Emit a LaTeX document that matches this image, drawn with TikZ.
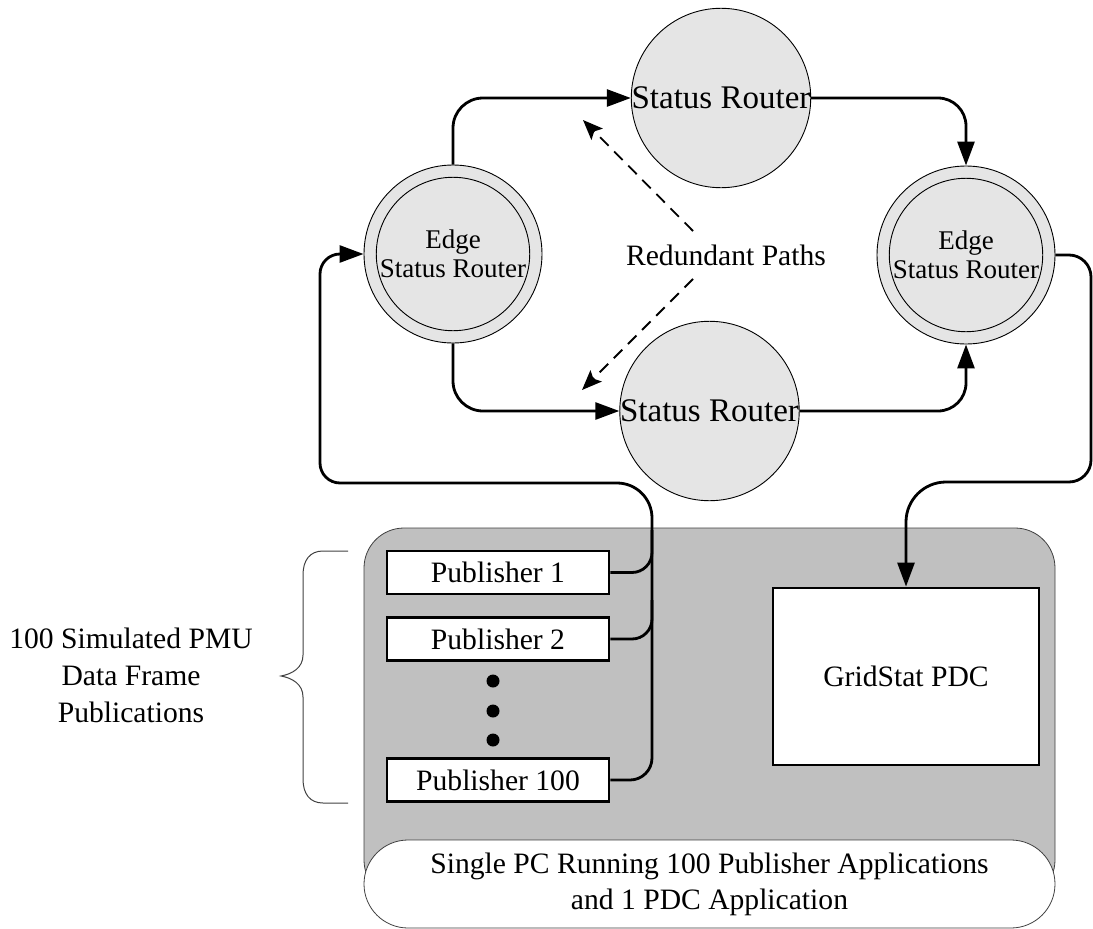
\documentclass[tikz,border=0pt]{standalone}
\usepackage{fontspec}
\setmainfont{Liberation Serif}
\usetikzlibrary{arrows.meta}
\definecolor{routerfill}{RGB}{229,229,229}
\definecolor{boxgray}{RGB}{192,192,192}
\definecolor{boxedge}{RGB}{64,64,64}
\begin{document}
\begin{tikzpicture}[x=1pt,y=-1pt,
  txt/.style={font=\fontsize{29.6}{36}\selectfont, align=center},
  router/.style={circle, draw=black, line width=0.9pt, fill=routerfill,
    minimum size=178pt, inner sep=0pt, font=\fontsize{33}{38}\selectfont},
  edgeouter/.style={circle, draw=black, line width=0.9pt, fill=routerfill,
    minimum size=178pt, inner sep=0pt},
  edgeinner/.style={circle, draw=black, line width=0.9pt, fill=routerfill,
    minimum size=147pt, inner sep=0pt, align=center,
    font=\fontsize{27}{29}\selectfont},
  pub/.style={draw=black, line width=2.6pt, fill=white, minimum width=222pt,
    minimum height=43pt, inner sep=0pt, txt},
  conn/.style={line width=2.8pt},
  flow/.style={conn, -{Triangle[length=24pt,width=17pt]}},
  dashflow/.style={line width=1.8pt, dash pattern=on 12pt off 8pt,
    -{Stealth[length=20pt,width=16pt,inset=4pt]}},
  bracestyle/.style={draw=boxedge, line width=1pt}
]
\useasboundingbox (0,0) rectangle (1093,929);

% PC enclosure and its caption
\node[draw=boxedge, fill=boxgray, line width=0.8pt, rounded corners=40pt,
  minimum width=691pt, minimum height=372pt, inner sep=0pt] (pc) at (709.5,714) {};
\node[draw=boxedge, fill=white, line width=0.8pt, rounded corners=44pt,
  minimum width=691pt, minimum height=88pt, inner sep=0pt, txt] (pclabel) at (709.5,884)
  {Single PC Running 100 Publisher Applications\\and 1 PDC Application};

% routers
\node[router] (top) at (721,98) {Status Router};
\node[router] (bot) at (709.5,411) {Status Router};
\node[edgeouter] (eL) at (453,254) {};
\node[edgeinner] (eLi) at (453,254) {Edge\\Status Router};
\node[edgeouter] (eR) at (966,255) {};
\node[edgeinner] (eRi) at (966,255) {Edge\\Status Router};

\node[txt] (rp) at (726,255) {Redundant Paths};

% publishers and PDC
\node[pub] (p1) at (498,572.5) {Publisher 1};
\node[pub] (p2) at (498,639) {Publisher 2};
\node[pub] (p100) at (498,780) {Publisher 100};
\foreach \yy in {681,711,740} \fill (493,\yy) circle (6.5pt);
\node[draw=black, line width=2.8pt, fill=white, minimum width=266pt,
  minimum height=177pt, inner sep=0pt, txt] (pdc) at (906,676.5) {GridStat PDC};

% left annotation with brace
\node[txt, font=\fontsize{29.6}{37}\selectfont] (sim) at (131,675)
  {100 Simulated PMU\\Data Frame\\Publications};
\draw[bracestyle] (348,551) -- (323,551) .. controls (310,551) and (303,560) .. (303,575)
  -- (303,655) .. controls (303,668) and (292,674) .. (281,676)
  .. controls (292,678) and (303,684) .. (303,697)
  -- (303,779) .. controls (303,794) and (310,803) .. (323,803) -- (348,803);

% router mesh
\draw[flow, rounded corners=30pt] (eL.north) |- (top.west);
\draw[flow, rounded corners=28pt] (top.east) -| (eR.north);
\draw[flow, rounded corners=30pt] (eL.south) |- (bot.west);
\draw[flow, rounded corners=28pt] (bot.east) -| (eR.south);

% redundant path markers
\coordinate (d1s) at (693,231);
\coordinate (d1e) at (583,120);
\coordinate (d2s) at (693,279);
\coordinate (d2e) at (582,390);
\draw[dashflow] (d1s) -- (d1e);
\draw[dashflow] (d2s) -- (d2e);

% publisher bus into the left edge router
\coordinate (busTop) at (652,483);
\coordinate (busLeft) at (320,483);
\draw[conn, rounded corners=20pt] (p1.east) -| (652,530);
\draw[conn, rounded corners=20pt] (p2.east) -| (652,600);
\draw[flow] (p100.east) [rounded corners=22pt] -- (652,780)
  [rounded corners=35pt] -- (busTop) [rounded corners=20pt] -- (busLeft) |- (eL.west);

% right edge router down to the PDC
\coordinate (rdown) at (1091,482);
\draw[flow] (eR.east) [rounded corners=22pt] -| (rdown) [rounded corners=40pt] -| (pdc.north);
\end{tikzpicture}
\end{document}
